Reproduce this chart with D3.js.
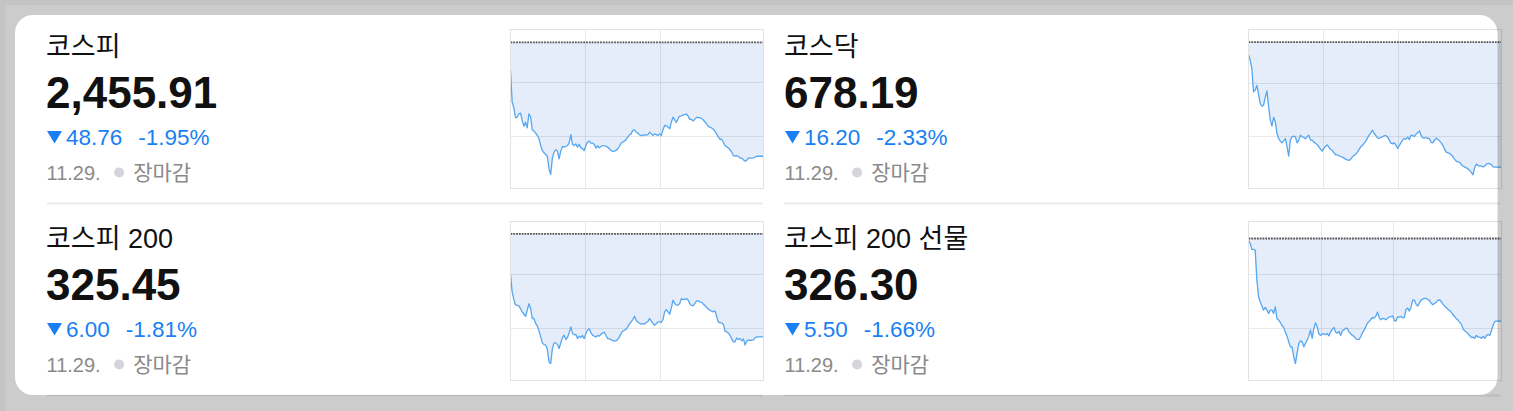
<!DOCTYPE html>
<html><head><meta charset="utf-8">
<script src="https://cdn.jsdelivr.net/npm/d3@7"></script>
<style>html,body{margin:0;padding:0;background:#fff;overflow:hidden}</style>
</head><body><svg id="c" width="1513" height="411"></svg>
<script>
// ---------- data ----------
const names = ["코스피", "코스닥", "코스피 200", "코스피 200 선물"];
const closes = [2455.91, 678.19, 325.45, 326.30];
const changes = [-48.76, -16.20, -6.00, -5.50];
const changePcts = [-1.95, -2.33, -1.81, -1.66];
const prevCloses = [2504.67, 694.39, 331.45, 331.80];
const dateLabel = "11.29.";
const statusLabel = "장마감";
// y-axis domains of each sparkline (index points)
const yDomains = [[2442.1, 2510.2], [675.42, 696.03], [322.91, 332.17], [322.35, 332.93]];
// session open / close in minutes from midnight (09:00–15:45, futures 08:45–15:45)
const sessionOpen = [540, 540, 540, 525];
const sessionClose = [945, 945, 945, 945];
const gridTimes = [[660, 780], [660, 780], [660, 780], [645, 765]];

const kospi = [2492.7,2479.1,2476.7,2472.4,2472.7,2474.1,2474.4,2471.2,2468.7,2470.5,
 2468.1,2474.1,2472.7,2467.2,2466.7,2465.8,2464.8,2463.4,2460.5,2458.4,
 2457.4,2456.7,2455.8,2450.5,2448.1,2455.2,2457.7,2458.7,2458.1,2454.8,
 2458.1,2460.1,2459.8,2460.1,2460.5,2461.5,2465.2,2461.0,2460.5,2461.2,
 2459.8,2461.0,2459.5,2459.1,2458.4,2460.5,2462.0,2462.4,2461.5,2461.5,
 2461.0,2459.4,2460.4,2459.5,2460.1,2460.5,2460.4,2460.1,2459.8,2459.1,
 2458.4,2458.0,2458.1,2458.4,2459.1,2460.2,2461.5,2462.0,2462.4,2463.1,
 2464.1,2465.1,2465.5,2467.0,2467.2,2466.2,2465.8,2465.1,2464.8,2464.8,
 2465.2,2465.0,2465.1,2466.2,2465.5,2464.8,2465.5,2465.2,2464.8,2465.5,
 2464.8,2467.2,2469.1,2469.0,2468.4,2467.7,2470.5,2472.7,2471.5,2470.4,
 2472.0,2473.1,2473.2,2473.5,2473.8,2474.0,2473.1,2471.7,2471.7,2471.0,
 2471.7,2472.5,2472.5,2472.4,2472.1,2471.5,2470.7,2469.8,2468.8,2468.4,
 2468.0,2467.5,2466.7,2465.5,2464.1,2463.2,2463.2,2462.0,2460.5,2460.0,
 2459.5,2458.7,2457.7,2456.2,2456.0,2456.2,2455.8,2455.2,2455.1,2454.4,
 2453.8,2454.2,2455.1,2455.1,2455.1,2455.2,2455.5,2456.0,2455.91,2455.91,
 2455.91,2455.91];

const kosdaq = [692.79,692.06,690.98,687.95,688.17,688.77,687.65,686.44,686.09,686.22,
 687.22,688.08,686.01,684.28,683.50,684.63,684.06,682.55,681.90,681.56,
 681.34,681.60,681.90,680.82,679.61,681.69,682.12,682.21,682.12,681.34,
 681.69,682.34,682.12,682.03,681.86,682.12,682.34,681.69,681.69,681.43,
 681.26,681.13,680.82,680.52,680.26,680.61,680.91,681.08,680.74,680.48,
 680.35,680.05,679.79,679.79,679.66,679.57,679.48,679.36,679.23,679.14,
 679.05,679.23,679.53,679.70,679.87,680.13,680.48,680.82,681.00,681.26,
 681.56,681.95,682.34,682.64,682.98,682.55,682.29,681.99,681.90,682.03,
 682.12,682.25,682.29,682.08,681.69,681.30,681.21,681.34,681.04,680.61,
 681.00,681.34,681.69,681.90,681.82,682.08,681.77,682.34,682.29,682.16,
 682.47,682.64,682.90,682.29,681.99,681.95,682.03,681.90,681.90,681.39,
 681.34,681.69,681.95,681.77,681.60,681.34,681.00,680.52,680.13,680.05,
 679.96,679.79,679.53,679.23,678.97,678.88,678.84,678.53,678.32,678.23,
 678.10,677.97,677.76,677.50,677.20,678.15,678.58,678.40,678.36,678.32,
 678.23,678.32,678.58,678.66,678.62,678.53,678.23,678.19,678.19,678.19,
 678.19,678.19];

const kospi200 = [329.10,328.07,327.63,327.30,327.30,327.26,327.10,326.91,326.77,326.65,
 327.00,327.39,327.10,326.52,326.52,326.23,326.09,325.80,325.45,325.10,
 325.00,324.97,324.71,323.99,323.90,324.77,325.10,325.10,325.00,324.77,
 325.10,325.41,325.55,325.30,325.41,325.68,326.03,325.65,325.57,325.59,
 325.35,325.49,325.41,325.53,325.35,325.65,325.84,325.92,325.68,325.55,
 325.49,325.45,325.53,325.49,325.61,325.68,325.72,325.53,325.35,325.33,
 325.30,325.22,325.22,325.22,325.30,325.45,325.65,325.78,325.84,325.88,
 326.03,326.21,326.32,326.46,326.65,326.42,326.31,326.23,326.19,326.23,
 326.19,326.29,326.34,326.52,326.38,326.23,326.13,326.21,326.32,326.32,
 326.29,326.46,326.91,327.04,326.91,326.77,327.14,327.59,327.39,327.30,
 327.30,327.39,327.68,327.63,327.63,327.68,327.59,327.39,327.28,327.26,
 327.39,327.55,327.55,327.49,327.47,327.37,327.28,327.16,327.08,327.00,
 326.95,326.91,326.97,326.65,326.32,326.27,326.27,326.19,325.80,325.74,
 325.68,325.55,325.35,325.16,325.16,325.39,325.30,325.35,325.22,325.33,
 324.97,325.22,325.26,325.24,325.26,325.28,325.41,325.45,325.45,325.45,
 325.45,325.45];

const kospi200Futures = [331.69,331.47,331.07,331.07,331.02,329.03,327.92,327.59,327.30,327.03,
 327.21,327.03,326.81,327.03,327.03,326.81,327.25,326.48,326.37,326.21,
 326.01,325.88,325.57,325.30,324.93,324.59,324.59,323.93,323.48,324.15,
 324.81,324.99,324.93,324.59,324.81,325.04,325.30,325.70,325.15,325.81,
 326.19,325.92,325.44,325.35,325.44,325.46,325.39,325.48,325.32,325.57,
 325.75,325.88,325.57,325.50,325.61,325.35,325.66,325.72,325.83,325.81,
 325.57,325.46,325.35,325.28,325.13,325.08,325.08,325.26,325.52,325.70,
 325.92,326.17,326.28,326.41,326.54,326.50,326.63,326.90,326.54,326.39,
 326.48,326.46,326.39,326.50,326.59,326.59,326.66,326.34,326.30,326.59,
 326.57,326.61,326.52,326.54,327.08,327.17,326.97,327.23,327.70,327.70,
 327.43,327.30,327.52,327.70,327.76,327.81,327.81,327.74,327.68,327.50,
 327.39,327.48,327.54,327.70,327.72,327.61,327.43,327.30,327.21,327.08,
 327.01,326.90,326.74,326.61,326.46,326.37,326.23,326.10,325.79,325.66,
 325.57,325.46,325.35,325.21,325.24,325.15,325.35,325.24,325.24,325.15,
 325.28,325.15,325.35,325.41,325.35,325.66,326.03,326.28,326.30,326.30,
 326.30,326.30];

const seriesList = [kospi, kosdaq, kospi200, kospi200Futures];

// ---------- drawing ----------
const W = 1513, H = 411;
const svg = d3.select("#c");
svg.append("rect").attr("width", W).attr("height", H).attr("fill", "#fff");

const FONT = "'Liberation Sans', Arial, 'Noto Sans CJK KR', sans-serif";
const KFONT = "'Noto Sans CJK KR', 'Liberation Sans', sans-serif";
const textCols = [47, 785];
const divCols = [[47, 763], [784, 1500]];
const chartLeft = [510.5, 1248.5];
const chartW = 253, chartTop = 29.5, chartH = 159;
const rowOff = [0, 192];
const BLUE = "#1a7ff2", GRAY = "#8a8a8a";
const fmtNum = d3.format(",.2f"), fmtAbs = d3.format(".2f");

names.forEach((name, i) => {
  const c = i % 2, r = Math.floor(i / 2);
  const tx = textCols[c], oy = rowOff[r];
  const g = svg.append("g");

  // title
  g.append("text").attr("x", tx - 1).attr("y", oy + 56)
    .attr("font-family", FONT).attr("font-size", 27).attr("fill", "#111").text(name);
  // value
  g.append("text").attr("x", tx - 1).attr("y", oy + 108)
    .attr("font-family", FONT).attr("font-weight", "bold").attr("font-size", 44)
    .attr("fill", "#111").text(fmtNum(closes[i]));
  // change line
  const down = changes[i] < 0;
  g.append("path")
    .attr("d", down
      ? `M${tx},${oy + 131}L${tx + 15},${oy + 131}L${tx + 7.5},${oy + 143.5}Z`
      : `M${tx},${oy + 143.5}L${tx + 15},${oy + 143.5}L${tx + 7.5},${oy + 131}Z`)
    .attr("fill", BLUE);
  const t1 = g.append("text").attr("x", tx + 19).attr("y", oy + 145)
    .attr("font-family", FONT).attr("font-size", 22.5).attr("fill", BLUE)
    .text(fmtAbs(Math.abs(changes[i])));
  const w1 = t1.node().getComputedTextLength();
  g.append("text").attr("x", tx + 19 + w1 + 16).attr("y", oy + 145)
    .attr("font-family", FONT).attr("font-size", 22.5).attr("fill", BLUE)
    .text(d3.format(".2f")(changePcts[i]).replace("−", "-") + "%");
  // date + status
  const d1 = g.append("text").attr("x", tx - 0.5).attr("y", oy + 180)
    .attr("font-family", FONT).attr("font-size", 20).attr("fill", GRAY).text(dateLabel);
  const dw = d1.node().getComputedTextLength();
  const cx = tx + dw + 18;
  g.append("circle").attr("cx", cx).attr("cy", oy + 172.5).attr("r", 5).attr("fill", "#d3d5da");
  g.append("text").attr("x", cx + 14).attr("y", oy + 180)
    .attr("font-family", KFONT).attr("font-size", 21).attr("fill", GRAY).text(statusLabel);

  // divider
  g.append("line").attr("x1", divCols[c][0]).attr("x2", divCols[c][1])
    .attr("y1", oy + 203.5).attr("y2", oy + 203.5)
    .attr("stroke", "#ececec").attr("stroke-width", 2);

  // sparkline
  const x0 = chartLeft[c], y0 = chartTop + oy;
  const data = seriesList[i];
  const xt = d3.scaleLinear().domain([sessionOpen[i], sessionClose[i]]).range([x0, x0 + chartW]);
  const xi = d3.scaleLinear().domain([0, data.length - 1]).range([sessionOpen[i], sessionClose[i]]);
  const y = d3.scaleLinear().domain(yDomains[i]).range([y0 + chartH, y0]);

  const area = d3.area().x((d, k) => xt(xi(k))).y0(y(prevCloses[i])).y1(d => y(d));
  g.append("path").datum(data).attr("d", area).attr("fill", "#e4edf9");

  // gridlines
  const yd = yDomains[i];
  const hTicks = [yd[0] + (yd[1] - yd[0]) / 3, yd[0] + 2 * (yd[1] - yd[0]) / 3];
  g.selectAll(null).data(hTicks).enter().append("line")
    .attr("x1", x0).attr("x2", x0 + chartW)
    .attr("y1", d => Math.round(y(d)) + 0.5).attr("y2", d => Math.round(y(d)) + 0.5)
    .attr("stroke", "#000").attr("stroke-opacity", 0.085);
  g.selectAll(null).data(gridTimes[i]).enter().append("line")
    .attr("x1", d => Math.round(xt(d)) + 0.5).attr("x2", d => Math.round(xt(d)) + 0.5)
    .attr("y1", y0).attr("y2", y0 + chartH)
    .attr("stroke", "#000").attr("stroke-opacity", 0.085);

  const line = d3.line().x((d, k) => xt(xi(k))).y(d => y(d));
  g.append("path").datum(data).attr("d", line)
    .attr("fill", "none").attr("stroke", "#56a6f0").attr("stroke-width", 1.3)
    .attr("stroke-linejoin", "round");

  // previous close (dotted)
  g.append("line").attr("x1", x0).attr("x2", x0 + chartW)
    .attr("y1", y(prevCloses[i])).attr("y2", y(prevCloses[i]))
    .attr("stroke", "#555").attr("stroke-width", 1.8).attr("stroke-dasharray", "1.8,1");

  // frame
  g.append("rect").attr("x", x0).attr("y", y0).attr("width", chartW).attr("height", chartH)
    .attr("fill", "none").attr("stroke", "#e2e2e2").attr("stroke-width", 1);
});

// overlay outside the rounded card
const cx0 = 15, cy0 = 15, cx1 = 1497.5, cy1 = 395, rr = 18;
svg.append("path")
  .attr("d", `M0,0H${W}V${H}H0Z M${cx0 + rr},${cy0}H${cx1 - rr}A${rr},${rr} 0 0 1 ${cx1},${cy0 + rr}V${cy1 - rr}A${rr},${rr} 0 0 1 ${cx1 - rr},${cy1}H${cx0 + rr}A${rr},${rr} 0 0 1 ${cx0},${cy1 - rr}V${cy0 + rr}A${rr},${rr} 0 0 1 ${cx0 + rr},${cy0}Z`)
  .attr("fill-rule", "evenodd").attr("fill", "rgba(0,0,0,0.2)");
svg.append("rect").attr("x", 0).attr("y", 0).attr("width", W).attr("height", 5).attr("fill", "rgba(0,0,0,0.04)");
svg.append("rect").attr("x", 0).attr("y", 5).attr("width", 5).attr("height", H - 5).attr("fill", "rgba(0,0,0,0.04)");
</script></body></html>
